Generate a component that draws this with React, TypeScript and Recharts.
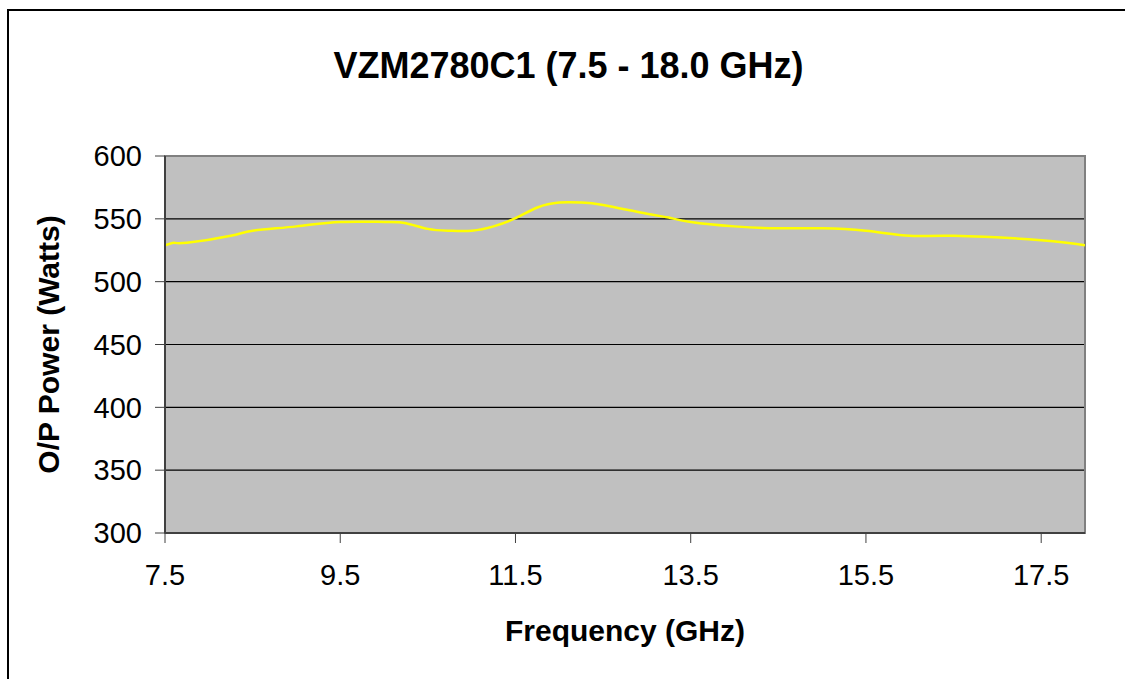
import {
  CartesianGrid,
  Label,
  Line,
  LineChart,
  ReferenceArea,
  XAxis,
  YAxis,
} from "recharts"

const frequencies = [
  7.5, 7.6, 7.75, 8.25, 8.5, 9.0, 9.5, 10.0, 10.25, 10.5, 10.75, 11.0, 11.25,
  11.5, 11.75, 12.0, 12.25, 12.5, 13.0, 13.25, 13.5, 14.0, 14.5, 15.0, 15.5,
  16.0, 16.5, 17.5, 18.0,
]
const powerWatts = [
  529, 531, 531, 536.5, 540.5, 544, 547.5, 547.5, 546.5, 542, 540.5, 540.5, 544,
  550.5, 559, 563, 563, 561, 554, 551, 547.5, 544, 542.5, 542.5, 540.5, 536.5,
  536.5, 533, 529,
]
const xTicks = [7.5, 9.5, 11.5, 13.5, 15.5, 17.5]
const yTicks = [300, 350, 400, 450, 500, 550, 600]

const chartTitle = "VZM2780C1 (7.5 - 18.0 GHz)"
const xTitle = "Frequency (GHz)"
const yTitle = "O/P Power (Watts)"

const data = frequencies.map((f, i) => ({ freq: f, power: powerWatts[i] }))

const font = "'Liberation Sans', Arial, sans-serif"

export default function App() {
  return (
    <div
      style={{
        position: "absolute",
        left: 0,
        top: 0,
        width: 1125,
        height: 679,
        background: "#fff",
        overflow: "hidden",
        fontFamily: font,
      }}
    >
      <div
        style={{
          position: "absolute",
          left: 7,
          top: 9,
          width: 1200,
          height: 800,
          borderLeft: "2px solid #000",
          borderTop: "2px solid #000",
        }}
      />
      <div
        style={{
          position: "absolute",
          left: 0,
          top: 40,
          width: 1137,
          textAlign: "center",
          fontSize: 36,
          fontWeight: "bold",
          lineHeight: "52px",
          color: "#000",
        }}
      >
        {chartTitle}
      </div>
      <LineChart
        width={1125}
        height={679}
        data={data}
        margin={{ top: 156, right: 40, bottom: 36, left: 0 }}
        style={{ position: "absolute", left: 0, top: 0 }}
      >
        <CartesianGrid
          vertical={false}
          stroke="#000"
          strokeWidth={1.2}
          fill="#C0C0C0"
          fillOpacity={1}
        />
        <ReferenceArea
          x1={7.5}
          x2={18}
          y1={300}
          y2={600}
          fill="none"
          stroke="#808080"
          strokeWidth={2}
          ifOverflow="visible"
        />
        <XAxis
          dataKey="freq"
          type="number"
          domain={[7.5, 18]}
          ticks={xTicks}
          allowDataOverflow
          height={110}
          tickSize={10}
          tickMargin={21}
          axisLine={{ stroke: "#404040", strokeWidth: 2 }}
          tickLine={{ stroke: "#404040", strokeWidth: 1 }}
          tick={{ fontSize: 29, fill: "#000", fontFamily: font }}
          tickFormatter={(v: number) => v.toFixed(1)}
        >
          <Label
            value={xTitle}
            position="insideBottom"
            offset={2}
            style={{ fontSize: 30, fontWeight: "bold", fill: "#000", fontFamily: font }}
          />
        </XAxis>
        <YAxis
          type="number"
          domain={[300, 600]}
          ticks={yTicks}
          width={165}
          tickSize={10}
          tickMargin={13}
          axisLine={{ stroke: "#404040", strokeWidth: 2 }}
          tickLine={{ stroke: "#404040", strokeWidth: 1 }}
          tick={{ fontSize: 29, fill: "#000", fontFamily: font }}
        >
          <Label
            value={yTitle}
            angle={-90}
            position="insideLeft"
            offset={48}
            style={{
              fontSize: 30,
              fontWeight: "bold",
              fill: "#000",
              fontFamily: font,
              textAnchor: "middle",
            }}
          />
        </YAxis>
        <Line
          type="natural"
          dataKey="power"
          stroke="#FFFF00"
          strokeWidth={2.5}
          dot={false}
          isAnimationActive={false}
        />
      </LineChart>
    </div>
  )
}
